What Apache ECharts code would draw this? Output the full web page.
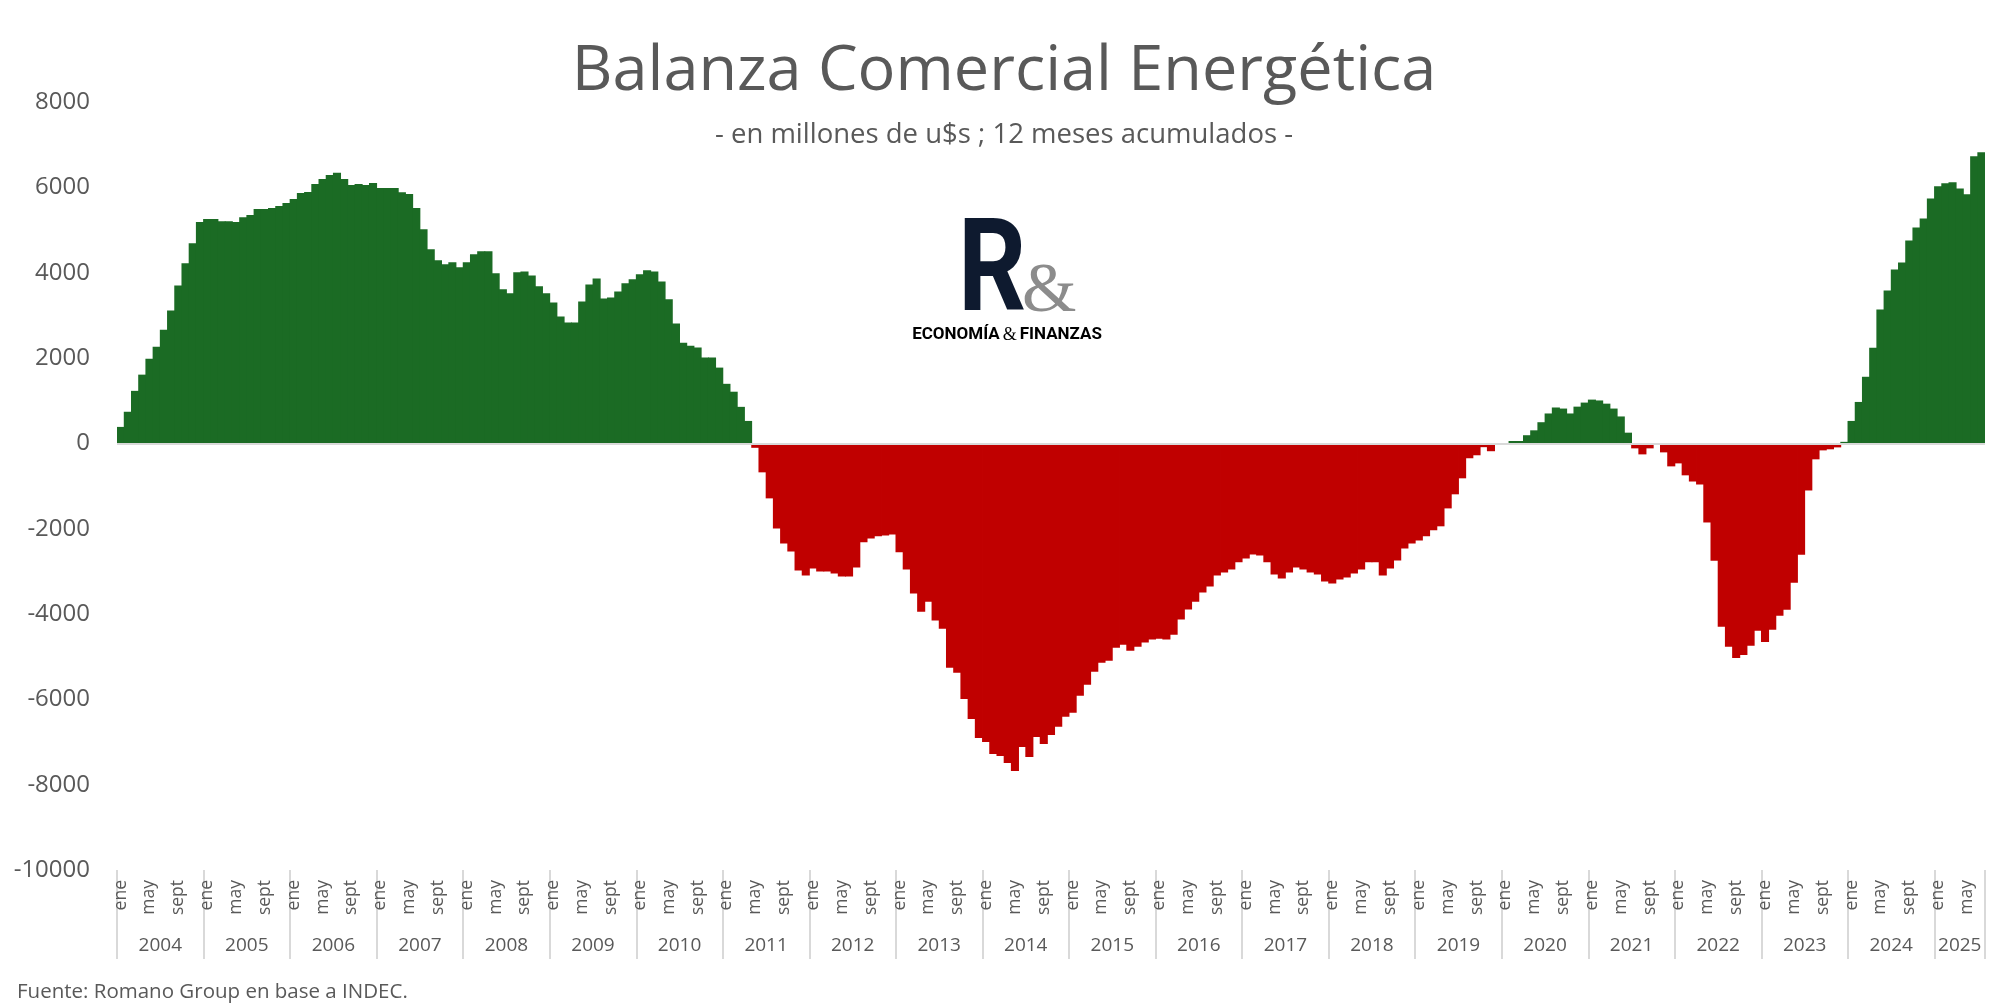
<!DOCTYPE html>
<html>
<head>
<meta charset="utf-8">
<script src="https://cdn.jsdelivr.net/npm/echarts@6/dist/echarts.min.js"></script>
<style>
html,body{margin:0;padding:0;background:#ffffff;}
#chart{width:2008px;height:1005px;}
</style>
</head>
<body>
<div id="chart"></div>
<script>
// ---- DATA (millones de u$s, 12 meses acumulados) ----
const monthNames = ['ene','feb','mar','abr','may','jun','jul','ago','sept','oct','nov','dic'];
const years = [2004,2005,2006,2007,2008,2009,2010,2011,2012,2013,2014,2015,2016,2017,2018,2019,2020,2021,2022,2023,2024,2025];

const v2004 = [385, 740, 1230, 1610, 1985, 2265, 2665, 3115, 3700, 4220, 4690, 5185];
const v2005 = [5255, 5255, 5205, 5205, 5185, 5300, 5350, 5490, 5490, 5515, 5560, 5630];
const v2006 = [5725, 5865, 5890, 6080, 6195, 6290, 6340, 6195, 6055, 6080, 6055, 6100];
const v2007 = [5985, 5985, 5985, 5885, 5845, 5515, 5020, 4550, 4290, 4195, 4245, 4125];
const v2008 = [4245, 4430, 4500, 4500, 3985, 3610, 3515, 4010, 4030, 3935, 3680, 3515];
const v2009 = [3300, 2975, 2830, 2830, 3325, 3725, 3865, 3395, 3420, 3560, 3750, 3845];
const v2010 = [3960, 4055, 4030, 3795, 3375, 2810, 2360, 2290, 2245, 2010, 2010, 1775];
const v2011 = [1395, 1210, 855, 525, -105, -680, -1290, -1995, -2345, -2535, -2980, -3095];
const v2012 = [-2935, -3005, -3005, -3050, -3120, -3120, -2910, -2320, -2230, -2180, -2160, -2135];
const v2013 = [-2555, -2955, -3520, -3945, -3710, -4155, -4345, -5260, -5375, -5990, -6460, -6905];
const v2014 = [-7000, -7280, -7330, -7490, -7680, -7115, -7350, -6880, -7045, -6835, -6645, -6410];
const v2015 = [-6315, -5915, -5660, -5355, -5140, -5095, -4790, -4720, -4860, -4765, -4670, -4600];
const v2016 = [-4580, -4600, -4485, -4130, -3895, -3710, -3495, -3355, -3095, -3025, -2955, -2790];
const v2017 = [-2700, -2605, -2630, -2790, -3075, -3170, -3025, -2910, -2955, -3025, -3075, -3240];
const v2018 = [-3285, -3190, -3145, -3050, -2955, -2790, -2790, -3095, -2935, -2745, -2465, -2345];
const v2019 = [-2275, -2180, -2040, -1945, -1525, -1195, -820, -350, -280, -90, -185, 0];
const v2020 = [0, 55, 55, 190, 305, 495, 700, 840, 815, 700, 860, 955];
const v2021 = [1025, 1005, 930, 815, 630, 250, -118, -259, -118, 0, -212, -540];
const v2022 = [-470, -750, -895, -965, -1855, -2750, -4300, -4770, -5030, -4960, -4745, -4395];
const v2023 = [-4655, -4370, -4040, -3900, -3265, -2610, -1105, -375, -165, -140, -95, 35];
const v2024 = [525, 970, 1560, 2240, 3135, 3580, 4075, 4240, 4755, 5060, 5270, 5740];
const v2025 = [6025, 6095, 6120, 5975, 5835, 6730, 6825];

const yTicks = { min: -10000, max: 8000, interval: 2000 };

// ---- build categories / values ----
const perYear = [v2004,v2005,v2006,v2007,v2008,v2009,v2010,v2011,v2012,v2013,v2014,v2015,v2016,v2017,v2018,v2019,v2020,v2021,v2022,v2023,v2024,v2025];
const categories = [];
const values = [];
const yearStartIdx = [];
const yearOfIdx = [];
perYear.forEach(function(arr, yi){
  yearStartIdx.push(categories.length);
  arr.forEach(function(v, mi){
    categories.push(monthNames[mi] + ' ' + years[yi]);
    values.push(v);
    yearOfIdx.push(yi);
  });
});
const yearLabelIdx = {};
perYear.forEach(function(arr, yi){
  const n = arr.length;
  const mid = yearStartIdx[yi] + Math.floor((n - 1) / 2);
  yearLabelIdx[mid] = { year: years[yi], half: (n % 2 === 0) };
});

const GREEN = '#1b6b24';
const RED = '#c00000';
const GREY = '#595959';
const FONT = '"Open Sans", "Noto Sans", sans-serif';

const barData = values.map(function(v){
  return { value: v, itemStyle: { color: v >= 0 ? GREEN : RED } };
});

const chart = echarts.init(document.getElementById('chart'), null, {renderer: 'canvas'});

const option = {
  animation: false,
  backgroundColor: '#ffffff',
  textStyle: { fontFamily: FONT },
  title: [
    {
      text: 'Balanza Comercial Energética',
      left: 'center', top: 29,
      textStyle: { fontSize: 63, fontWeight: 'normal', color: GREY, lineHeight: 76, fontFamily: FONT }
    },
    {
      text: '- en millones de u$s ; 12 meses acumulados -',
      left: 'center', top: 113,
      textStyle: { fontSize: 27.5, fontWeight: 'normal', color: GREY, lineHeight: 34, fontFamily: FONT }
    },
    {
      text: 'Fuente: Romano Group en base a INDEC.',
      left: 12, top: 974,
      textStyle: { fontSize: 20.5, fontWeight: 'normal', color: GREY, lineHeight: 26, fontFamily: FONT }
    }
  ],
  grid: { left: 117, right: 23, top: 102, bottom: 135, containLabel: false },
  xAxis: [
    {
      type: 'category',
      data: categories,
      position: 'bottom',
      boundaryGap: true,
      axisLine: { show: false },
      axisTick: { show: false },
      splitLine: { show: false },
      axisLabel: {
        interval: function(i){ const m = i - yearStartIdx[yearOfIdx[i]]; return m === 0 || m === 4 || m === 8; },
        rotate: 90,
        margin: 10,
        fontSize: 17.5,
        color: GREY,
        formatter: function(v){ return v.split(' ')[0]; }
      }
    },
    {
      type: 'category',
      data: categories,
      position: 'bottom',
      boundaryGap: true,
      axisLine: { show: false },
      splitLine: { show: false },
      axisTick: {
        show: true,
        interval: function(i){ return yearStartIdx.indexOf(i) !== -1; },
        length: 89,
        lineStyle: { color: '#d9d9d9', width: 2 }
      },
      axisLabel: {
        interval: function(i){ return yearLabelIdx[i] !== undefined; },
        margin: 66,
        fontSize: 19,
        color: GREY,
        formatter: function(v, i){
          const info = yearLabelIdx[i];
          if (!info) return '';
          return (info.half ? '{h|' : '{f|') + info.year + '}';
        },
        rich: {
          h: { fontSize: 19, color: GREY, padding: [0, 0, 0, 7.2], fontFamily: FONT },
          f: { fontSize: 19, color: GREY, fontFamily: FONT }
        }
      }
    }
  ],
  yAxis: {
    type: 'value',
    min: yTicks.min, max: yTicks.max, interval: yTicks.interval,
    axisLine: { show: false },
    axisTick: { show: false },
    splitLine: { show: false },
    axisLabel: { fontSize: 24, color: GREY, margin: 27, formatter: function(v){ return String(v); } }
  },
  series: [
    {
      type: 'bar',
      xAxisIndex: 0,
      data: barData,
      barWidth: '112%',
      barCategoryGap: '0%',
      markLine: {
        silent: true,
        symbol: 'none',
        label: { show: false },
        lineStyle: { color: '#d9d9d9', width: 2, type: 'solid' },
        data: [{ yAxis: 0 }]
      }
    }
  ],
  graphic: [
    {
      type: 'text',
      x: 958, y: 277,
      scaleX: 0.82,
      style: { text: 'R', fill: '#0e1a2f', font: 'bold 130px Roboto', align: 'left', verticalAlign: 'middle' }
    },
    {
      type: 'text',
      x: 1022, y: 293,
      style: { text: '&', fill: '#8c8c8c', font: '70px "Liberation Serif"', align: 'left', verticalAlign: 'middle' }
    },
    {
      type: 'text',
      x: 1007, y: 335,
      style: {
        text: '{a|ECONOMÍA}{b|&}{a|FINANZAS}',
        align: 'center', verticalAlign: 'middle',
        rich: {
          a: { fontSize: 17, fontWeight: 'bold', fontFamily: 'Roboto', color: '#1a2238' },
          b: { fontSize: 18, fontFamily: '"Liberation Serif"', color: '#8c8c8c', padding: [0, 3, 0, 3] }
        }
      }
    }
  ]
};
chart.setOption(option);
</script>
</body>
</html>
